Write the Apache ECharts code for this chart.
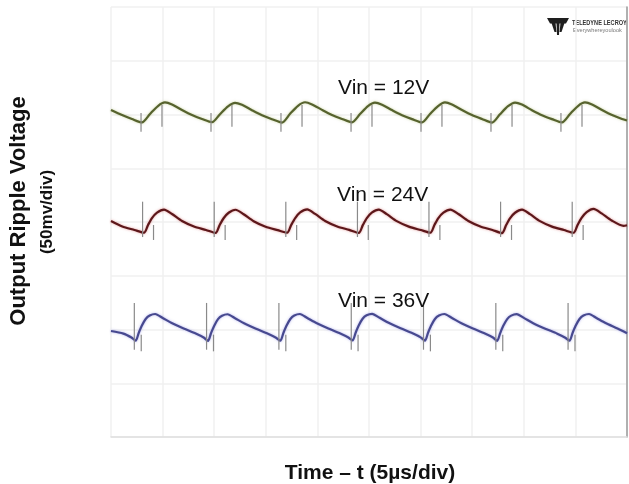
<!DOCTYPE html>
<html>
<head>
<meta charset="utf-8">
<title>Output Ripple Voltage</title>
<script src="https://cdn.jsdelivr.net/npm/echarts@6/dist/echarts.min.js"></script>
<style>
  html, body { margin: 0; padding: 0; background: #ffffff; }
  #chart { width: 629px; height: 484px; }
</style>
</head>
<body>
<div id="chart"></div>
<script>
// Oscilloscope capture: output ripple at three input voltages.
// Time in microseconds (5 us/div, 10 div), ripple in millivolts (50 mV/div, 8 div).

// ---- Vin = 12V trace ----
const vin12Time = [0, 1.07, 2.03,
  3.00, 3.78, 4.55, 5.23, 5.91, 6.88, 7.85, 8.82,
  9.79, 10.56, 11.34, 12.02, 12.69, 13.66, 14.63, 15.60,
  16.57, 17.35, 18.12, 18.80, 19.48, 20.45, 21.41, 22.38,
  23.35, 24.13, 24.90, 25.58, 26.26, 27.23, 28.20, 29.17,
  30.14, 30.91, 31.69, 32.36, 33.04, 34.01, 34.98, 35.95,
  36.92, 37.69, 38.47, 39.15, 39.82, 40.79, 41.76, 42.73,
  43.70, 44.48, 45.25, 45.93, 46.61, 47.58, 48.55, 49.52,
  50.00];
const vin12Ripple = [104.2, 99.5, 95.8,
  92.6, 100.5, 107.9, 111.2, 109.3, 104.2, 99.5, 95.8,
  92.8, 100.3, 107.6, 110.9, 109.0, 104.0, 99.3, 95.6,
  92.5, 100.6, 108.1, 111.4, 109.4, 104.3, 99.6, 95.9,
  92.7, 100.4, 107.8, 111.0, 109.1, 104.1, 99.4, 95.7,
  92.6, 100.5, 107.9, 111.3, 109.3, 104.2, 99.5, 95.8,
  92.4, 100.2, 107.7, 111.1, 109.2, 104.0, 99.3, 95.7,
  92.6, 100.5, 107.9, 111.2, 109.3, 104.2, 99.5, 95.8,
  94.4];
const vin12SpikeTime = [2.91, 4.94, 9.69, 11.72, 16.47, 18.51, 23.26, 25.29,
  30.04, 32.07, 36.82, 38.86, 43.60, 45.64];
const vin12SpikeHigh = [101.4, 108.8, 101.4, 108.8, 101.4, 108.8, 101.4, 108.8,
  101.4, 108.8, 101.4, 108.8, 101.4, 108.8];
const vin12SpikeLow = [84.0, 88.7, 84.0, 88.7, 84.0, 88.7, 84.0, 88.7,
  84.0, 88.7, 84.0, 88.7, 84.0, 88.7];

// ---- Vin = 24V trace ----
const vin24Time = [0, 1.10, 2.27,
  3.20, 3.59, 3.97, 4.46, 5.14, 5.91, 6.88, 8.04, 9.21,
  10.14, 10.52, 10.91, 11.40, 12.07, 12.85, 13.82, 14.98, 16.15,
  17.07, 17.46, 17.85, 18.33, 19.01, 19.78, 20.75, 21.92, 23.08,
  24.01, 24.40, 24.79, 25.27, 25.95, 26.72, 27.69, 28.86, 30.02,
  30.95, 31.34, 31.72, 32.21, 32.89, 33.66, 34.63, 35.79, 36.96,
  37.89, 38.28, 38.66, 39.15, 39.83, 40.60, 41.57, 42.73, 43.90,
  44.83, 45.21, 45.60, 46.09, 46.76, 47.54, 48.51, 49.67,
  50.00];
const vin24Ripple = [0.9, -4.2, -7.4,
  -10.0, -2.8, 3.7, 8.8, 11.6, 7.4, 0.9, -4.2, -7.4,
  -10.2, -3.0, 3.5, 8.6, 11.4, 7.2, 0.7, -4.4, -7.6,
  -10.0, -2.8, 3.7, 8.9, 11.7, 7.5, 1.0, -4.1, -7.3,
  -10.1, -2.9, 3.6, 8.7, 11.5, 7.3, 0.8, -4.3, -7.5,
  -10.0, -2.8, 3.7, 8.8, 11.6, 7.4, 0.9, -4.2, -7.4,
  -10.3, -3.1, 3.4, 8.6, 11.5, 7.3, 0.8, -4.3, -7.5,
  -10.0, -2.8, 3.8, 9.2, 12.2, 8.0, 1.4, -3.6,
  -3.0];
const vin24SpikeTime = [3.06, 4.12, 10.00, 11.06, 16.94, 17.99, 23.88, 24.93,
  30.81, 31.87, 37.75, 38.81, 44.69, 45.75];
const vin24SpikeHigh = [18.9, -2.8, 18.9, -2.8, 18.9, -2.8, 18.9, -2.8,
  18.9, -2.8, 18.9, -2.8, 18.9, -2.8];
const vin24SpikeLow = [-14.0, -16.7, -14.0, -16.7, -14.0, -16.7, -14.0, -16.7,
  -14.0, -16.7, -14.0, -16.7, -14.0, -16.7];

// ---- Vin = 36V trace ----
const vin36Time = [0, 1.20, 1.98,
  2.39, 2.68, 2.97, 3.36, 3.75, 4.28, 5.01, 5.88, 7.04, 8.21, 8.98,
  9.40, 9.69, 9.98, 10.37, 10.76, 11.29, 12.02, 12.89, 14.05, 15.21, 15.99,
  16.41, 16.70, 16.99, 17.38, 17.76, 18.30, 19.02, 19.90, 21.06, 22.22, 23.00,
  23.41, 23.70, 23.99, 24.38, 24.77, 25.30, 26.03, 26.90, 28.06, 29.22, 30.00,
  30.42, 30.71, 31.00, 31.39, 31.78, 32.31, 33.04, 33.91, 35.07, 36.23, 37.01,
  37.42, 37.71, 38.00, 38.39, 38.78, 39.31, 40.04, 40.91, 42.08, 43.24, 44.02,
  44.43, 44.72, 45.01, 45.40, 45.78, 46.32, 47.04, 47.92, 49.08,
  50.00];
const vin36Ripple = [-101.4, -103.8, -107.5,
  -110.4, -103.3, -96.7, -90.2, -87.0, -85.6, -89.3, -94.0, -99.1, -103.8, -107.5,
  -110.6, -103.5, -96.9, -90.4, -87.2, -85.8, -89.5, -94.2, -99.3, -104.0, -107.7,
  -110.4, -103.3, -96.7, -90.2, -87.0, -85.6, -89.3, -94.0, -99.1, -103.8, -107.5,
  -110.2, -103.1, -96.5, -90.0, -86.8, -85.4, -89.1, -93.8, -98.9, -103.6, -107.3,
  -110.4, -103.3, -96.7, -90.2, -87.0, -85.6, -89.3, -94.0, -99.1, -103.8, -107.5,
  -110.5, -103.4, -96.8, -90.3, -87.1, -85.7, -89.4, -94.1, -99.2, -103.9, -107.6,
  -110.4, -103.3, -96.7, -90.2, -87.0, -85.6, -89.3, -94.0, -99.1,
  -103.5];
const vin36SpikeTime = [2.26, 2.93, 9.26, 9.93, 16.27, 16.94, 23.28, 23.94,
  30.28, 30.95, 37.29, 37.96, 44.29, 44.96];
const vin36SpikeHigh = [-75.3, -104.8, -75.3, -104.8, -75.3, -104.8, -75.3, -104.8,
  -75.3, -104.8, -75.3, -104.8, -75.3, -104.8];
const vin36SpikeLow = [-118.8, -120.3, -118.8, -120.3, -118.8, -120.3, -118.8, -120.3,
  -118.8, -120.3, -118.8, -120.3, -118.8, -120.3];

const traceLabels = ['Vin = 12V', 'Vin = 24V', 'Vin = 36V'];

// ---- helpers building series from the arrays above ----
function pairUp(xs, ys) {
  return xs.map((x, i) => [x, ys[i]]);
}

function traceSeries(name, xs, ys, color, glow) {
  return {
    name: name,
    type: 'line',
    data: pairUp(xs, ys),
    showSymbol: false,
    smooth: 0.25,
    z: 3,
    lineStyle: { color: color, width: 2.2, shadowColor: glow, shadowBlur: 2.5 }
  };
}

function spikeSeries(name, ts, highs, lows) {
  return {
    name: name,
    type: 'custom',
    z: 4,
    data: ts.map((t, i) => [t, highs[i], lows[i]]),
    encode: { x: 0, y: [1, 2] },
    renderItem: function (params, api) {
      const a = api.coord([api.value(0), api.value(1)]);
      const b = api.coord([api.value(0), api.value(2)]);
      return {
        type: 'line',
        shape: { x1: a[0], y1: a[1], x2: b[0], y2: b[1] },
        style: { stroke: '#8a8a8a', lineWidth: 1.2 }
      };
    }
  };
}

const chart = echarts.init(document.getElementById('chart'), null, { renderer: 'canvas' });

const boldFont = 'bold {s}px "Liberation Sans", Arial, sans-serif';
const plainFont = '{s}px "Liberation Sans", Arial, sans-serif';
function font(tpl, s) { return tpl.replace('{s}', s); }

chart.setOption({
  animation: false,
  backgroundColor: '#ffffff',
  grid: { left: 111, top: 7, width: 516, height: 430, containLabel: false },
  xAxis: {
    type: 'value', min: 0, max: 50, interval: 5,
    axisLine: { show: true, onZero: false, lineStyle: { color: '#dedede', width: 1.5 } },
    axisTick: { show: false }, axisLabel: { show: false },
    splitLine: { show: true, lineStyle: { color: '#f0f0f0', width: 1.5 } }
  },
  yAxis: {
    type: 'value', min: -200, max: 200, interval: 50, position: 'right',
    axisLine: { show: true, onZero: false, lineStyle: { color: '#9a9a9a', width: 1.5 } },
    axisTick: { show: false }, axisLabel: { show: false },
    splitLine: { show: true, lineStyle: { color: '#f0f0f0', width: 1.5 } }
  },
  series: [
    traceSeries(traceLabels[0], vin12Time, vin12Ripple, '#56622e', 'rgba(150,170,70,0.5)'),
    traceSeries(traceLabels[1], vin24Time, vin24Ripple, '#5c171a', 'rgba(200,50,50,0.5)'),
    traceSeries(traceLabels[2], vin36Time, vin36Ripple, '#47498f', 'rgba(100,100,220,0.5)'),
    spikeSeries(traceLabels[0] + ' spikes', vin12SpikeTime, vin12SpikeHigh, vin12SpikeLow),
    spikeSeries(traceLabels[1] + ' spikes', vin24SpikeTime, vin24SpikeHigh, vin24SpikeLow),
    spikeSeries(traceLabels[2] + ' spikes', vin36SpikeTime, vin36SpikeHigh, vin36SpikeLow)
  ],
  graphic: [
    // trace captions
    { type: 'text', x: 338, y: 88, z: 10,
      style: { text: traceLabels[0], font: font(plainFont, 21), fill: '#111', align: 'left', verticalAlign: 'middle' } },
    { type: 'text', x: 337, y: 195, z: 10,
      style: { text: traceLabels[1], font: font(plainFont, 21), fill: '#111', align: 'left', verticalAlign: 'middle' } },
    { type: 'text', x: 338, y: 301, z: 10,
      style: { text: traceLabels[2], font: font(plainFont, 21), fill: '#111', align: 'left', verticalAlign: 'middle' } },
    // axis titles
    { type: 'text', x: 370, y: 473,
      style: { text: 'Time \u2013 t (5\u00b5s/div)', font: font(boldFont, 21), fill: '#111', align: 'center', verticalAlign: 'middle' } },
    { type: 'text', x: 19, y: 211, rotation: Math.PI / 2,
      style: { text: 'Output Ripple Voltage', font: font(boldFont, 22), fill: '#111', align: 'center', verticalAlign: 'middle' } },
    { type: 'text', x: 47, y: 212, rotation: Math.PI / 2,
      style: { text: '(50mv/div)', font: font(boldFont, 17), fill: '#111', align: 'center', verticalAlign: 'middle' } },
    // scope vendor badge
    { type: 'group', z: 10, children: [
      { type: 'polygon', shape: { points: [[547, 18], [569, 18], [566, 23.5], [550, 23.5]] }, style: { fill: '#1e1e1e' } },
      { type: 'polygon', shape: { points: [[556.5, 23], [559.5, 23], [559, 35], [557, 35]] }, style: { fill: '#1e1e1e' } },
      { type: 'polygon', shape: { points: [[551.5, 23], [555.5, 23], [556.5, 32], [554.5, 32]] }, style: { fill: '#1e1e1e' } },
      { type: 'polygon', shape: { points: [[560.5, 23], [564.5, 23], [561.5, 32], [559.5, 32]] }, style: { fill: '#1e1e1e' } },
      { type: 'text', x: 572, y: 23, scaleX: 0.7,
        style: { text: 'TELEDYNE LECROY', font: font(boldFont, 8), fill: '#333', align: 'left', verticalAlign: 'middle' } },
      { type: 'text', x: 573, y: 30.5,
        style: { text: 'Everywhereyoulook', font: font(plainFont, 5.6), fill: '#777', align: 'left', verticalAlign: 'middle' } }
    ] }
  ]
});
</script>
</body>
</html>
